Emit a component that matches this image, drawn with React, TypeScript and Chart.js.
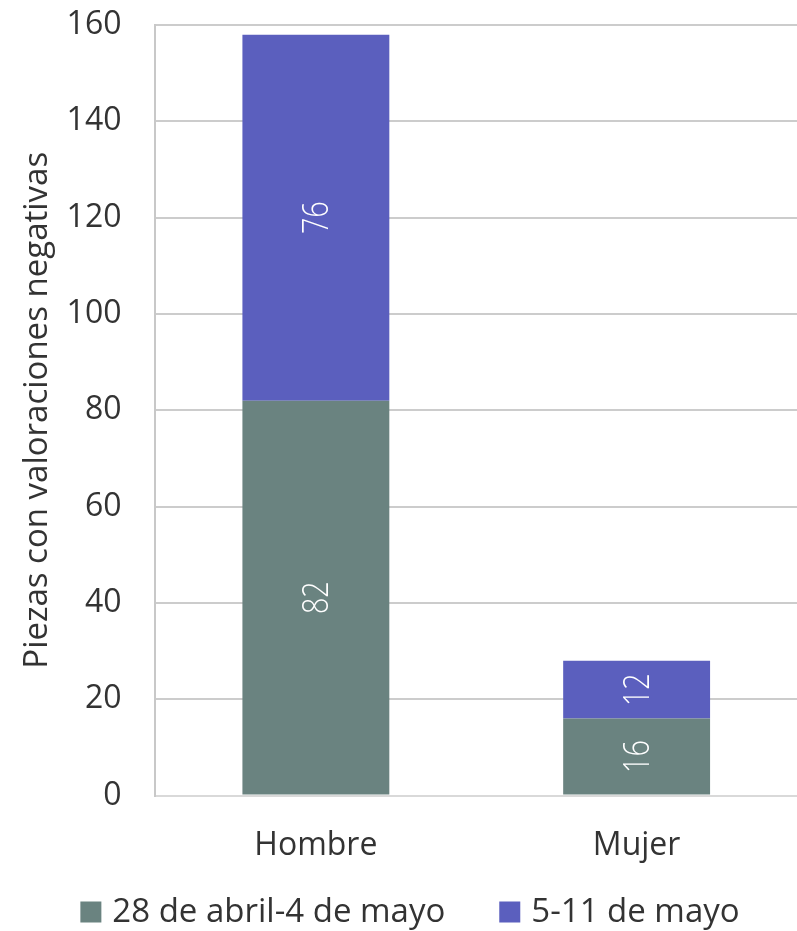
import React, { useEffect, useRef } from "react";
import { Chart, registerables } from "chart.js";

Chart.register(...registerables);

const categories = ["Hombre", "Mujer"];
const seriesNames = ["28 de abril-4 de mayo", "5-11 de mayo"];
const series1 = [82, 16];
const series2 = [76, 12];
const colors = ["#6a8380", "#5b5fbe"];

const FONT = "'Open Sans', 'Noto Sans', sans-serif";
const TEXT = "#333333";

const labelPlugin = {
  id: "segLabels",
  afterDatasetsDraw(chart: any) {
    const ctx = chart.ctx;
    chart.data.datasets.forEach((ds: any, i: number) => {
      const meta = chart.getDatasetMeta(i);
      meta.data.forEach((el: any, j: number) => {
        const v = ds.data[j];
        const props = el.getProps(["x", "y", "base"], true);
        const cy = (props.y + props.base) / 2;
        ctx.save();
        ctx.translate(props.x, cy);
        ctx.rotate(-Math.PI / 2);
        ctx.scale(0.78, 1);
        ctx.fillStyle = "#ffffff";
        ctx.font = `300 37px ${FONT}`;
        ctx.textAlign = "center";
        ctx.textBaseline = "middle";
        ctx.fillText(String(v), 0, 2);
        ctx.restore();
      });
    });
  },
};

const legendPlugin = {
  id: "customLegend",
  afterDraw(chart: any) {
    const ctx = chart.ctx;
    const box = 21;
    const gapText = 11;
    const gapItem = 54;
    ctx.save();
    ctx.font = `33px ${FONT}`;
    const items = chart.data.datasets.map((ds: any) => ({
      label: ds.label,
      color: ds.backgroundColor,
      w: ctx.measureText(ds.label).width,
    }));
    const total =
      items.reduce((s: number, it: any) => s + box + gapText + it.w, 0) +
      gapItem * (items.length - 1);
    let x = 410 - total / 2;
    const y = 912;
    items.forEach((it: any) => {
      ctx.fillStyle = it.color;
      ctx.fillRect(x, y - box / 2, box, box);
      x += box + gapText;
      ctx.fillStyle = TEXT;
      ctx.textAlign = "left";
      ctx.textBaseline = "middle";
      ctx.fillText(it.label, x, y + 1);
      x += it.w + gapItem;
    });
    ctx.restore();
  },
};

export default function App() {
  const ref = useRef<HTMLCanvasElement>(null);
  useEffect(() => {
    document.body.style.margin = "0";
    const chart = new Chart(ref.current!, {
      type: "bar",
      data: {
        labels: categories,
        datasets: [
          { label: seriesNames[0], data: series1, backgroundColor: colors[0] },
          { label: seriesNames[1], data: series2, backgroundColor: colors[1] },
        ],
      },
      options: {
        animation: false,
        responsive: false,
        layout: { padding: { top: 0, left: -11, right: 0, bottom: 43 } },
        datasets: { bar: { barPercentage: 0.458, categoryPercentage: 1 } },
        scales: {
          x: {
            stacked: true,
            grid: { display: false },
            border: { color: "#d9d9d9", width: 2 },
            ticks: { color: TEXT, font: { family: FONT, size: 32 }, padding: 23 },
          },
          y: {
            stacked: true,
            min: 0,
            max: 160,
            afterFit: (scale: any) => {
              scale.paddingTop = 25;
            },
            ticks: { stepSize: 20, color: TEXT, font: { family: FONT, size: 32 }, padding: 34 },
            grid: { color: "#cccccc", lineWidth: 2, drawTicks: false },
            border: { color: "#c8c8c8", width: 2 },
            title: {
              display: true,
              text: "Piezas con valoraciones negativas",
              color: TEXT,
              font: { family: FONT, size: 33 },
              padding: { top: 29, bottom: -25 },
            },
          },
        },
        plugins: {
          legend: { display: false },
          tooltip: { enabled: false },
        },
      },
      plugins: [labelPlugin, legendPlugin],
    });
    return () => chart.destroy();
  }, []);
  return <canvas ref={ref} width={797} height={931} style={{ display: "block" }} />;
}
